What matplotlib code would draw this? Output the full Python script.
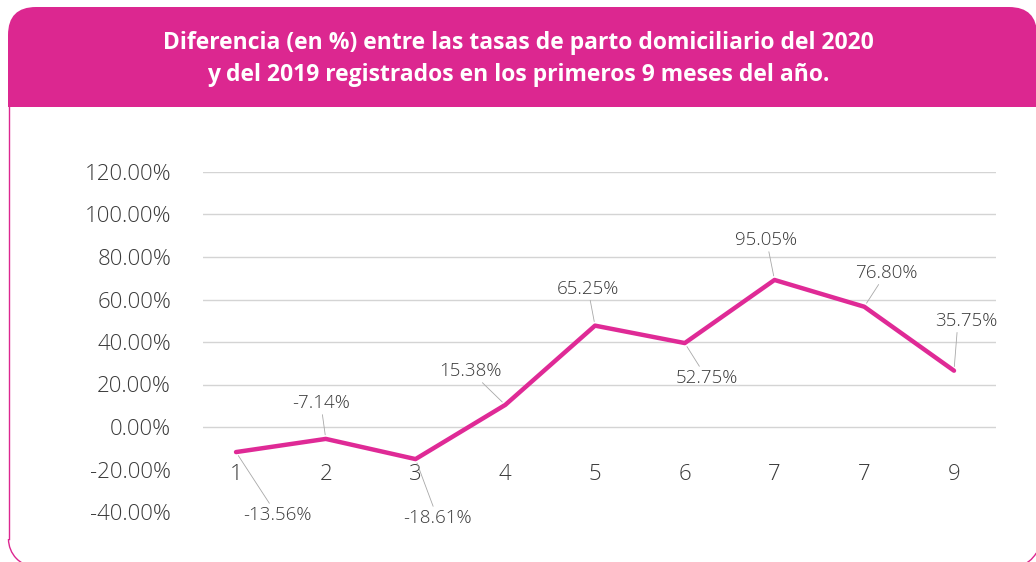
import matplotlib
matplotlib.use("Agg")
import matplotlib.pyplot as plt
from matplotlib.patches import FancyBboxPatch, Rectangle, Arc
from matplotlib.lines import Line2D
from matplotlib.transforms import IdentityTransform

# ================== datos ==================
meses = [1, 2, 3, 4, 5, 6, 7, 8, 9]
etiquetas_x = ["1", "2", "3", "4", "5", "6", "7", "7", "9"]
# altura de la linea tal como se ve en el grafico (%)
valores_linea = [-11.8, -5.6, -15.1, 10.4, 47.7, 39.5, 69.2, 56.6, 26.5]
# etiquetas de datos impresas en el grafico
etiquetas_datos = ["-13.56%", "-7.14%", "-18.61%", "15.38%", "65.25%",
                   "52.75%", "95.05%", "76.80%", "35.75%"]
ticks_y = [-40, -20, 0, 20, 40, 60, 80, 100, 120]

TITULO = ("Diferencia (en %) entre las tasas de parto domiciliario del 2020\n"
          "y del 2019 registrados en los primeros 9 meses del año.")

# ================== estilo ==================
ROSA = "#DC2790"
LINEA = "#DF2A96"
GRIS_TXT = "#3A3A3A"
GRIS_GRID = "#D4D4D4"
W, H = 1036, 562

# desplazamiento de cada etiqueta respecto al punto (px, y hacia arriba)
offsets = [(41, -63), (-5, 36), (22, -59), (-35, 34), (-7, 37),
           (22, -35), (-8, 40), (22, 34), (12, 50)]
# punto de la etiqueta donde arranca la linea guia
relpos = [(0.5, 0.5)] * 8 + [(0.36, 0.0)]

plt.rcParams['font.family'] = ['Open Sans', 'DejaVu Sans']

fig = plt.figure(figsize=(W / 100, H / 100), dpi=100)

# ================== marco y cabecera ==================
ident = IdentityTransform()
cabecera = FancyBboxPatch((8, H - 140), 1029, 133,
                          boxstyle="round,pad=0,rounding_size=28",
                          transform=ident, facecolor=ROSA, edgecolor="none",
                          zorder=-3)
fig.add_artist(cabecera)
fig.add_artist(Rectangle((0, 0), W, H - 107, transform=ident,
                         facecolor="white", edgecolor="none", zorder=-2))
# borde: lado izquierdo y esquinas inferiores
fig.add_artist(Line2D([8.5, 8.5], [H - 107, 23], transform=ident,
                      color=ROSA, lw=1.0, zorder=-1))
fig.add_artist(Arc((36.5, 23), 56, 56, theta1=180, theta2=268,
                   transform=ident, color=ROSA, lw=1.0, zorder=-1))
fig.add_artist(Arc((1012, 23), 56, 56, theta1=285, theta2=330,
                   transform=ident, color=ROSA, lw=1.0, zorder=-1))

fig.text(0.5, 1 - 59 / H, TITULO, ha="center", va="center", color="white",
         fontsize=16.5, fontweight="bold", linespacing=1.4,
         family=['Open Sans', 'DejaVu Sans'])

# ================== grafico ==================
ax = fig.add_axes([203 / W, 50 / H, 793 / W, 340 / H])
ax.set_facecolor("none")
ax.set_xlim(0.632, 9.468)
ax.set_ylim(-40, 120)

for t in ticks_y:
    if t >= 0:
        ax.axhline(t, color=GRIS_GRID, lw=1.0, zorder=1)

ax.plot(meses, valores_linea, color=LINEA, lw=3.2, solid_joinstyle="round",
        solid_capstyle="round", zorder=3)

for m, v, txt, (dx, dy), rp in zip(meses, valores_linea, etiquetas_datos,
                                   offsets, relpos):
    ax.annotate(txt, xy=(m, v), xytext=(dx * 0.72, dy * 0.72),
                textcoords="offset points", ha="center", va="center",
                fontsize=13.5, color=GRIS_TXT, fontweight="light",
                arrowprops=dict(arrowstyle="-", color="#A8A8A8", lw=0.6,
                                shrinkA=0, shrinkB=3, relpos=rp),
                zorder=4)

ax.set_yticks(ticks_y)
ax.set_yticklabels([f"{t:.2f}%" for t in ticks_y])
ax.set_xticks(meses)
ax.set_xticklabels(etiquetas_x)
ax.spines['bottom'].set_position(('data', 0))
for s in ax.spines.values():
    s.set_visible(False)
ax.tick_params(axis="y", length=0, pad=23, labelsize=16, labelcolor=GRIS_TXT)
ax.tick_params(axis="x", length=0, pad=27, labelsize=16, labelcolor=GRIS_TXT)
for lab in ax.get_xticklabels() + ax.get_yticklabels():
    lab.set_fontweight("light")

fig.savefig("out.png", dpi=100)
